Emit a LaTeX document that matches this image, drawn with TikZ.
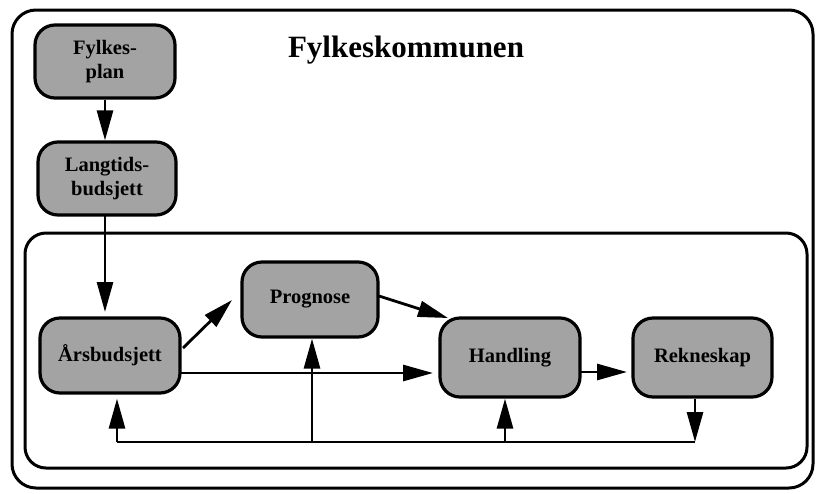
\documentclass[tikz,border=0pt]{standalone}
\usepackage{fontspec}
\setmainfont{Liberation Serif}
\usetikzlibrary{arrows.meta,calc}
\begin{document}
\begin{tikzpicture}[x=1pt,y=-1pt,
  frame/.style={draw=black,line width=3pt,rounded corners=24pt},
  boxnode/.style={draw=black,line width=3.2pt,rounded corners=20pt,fill=black!36,
     font=\bfseries\fontsize{20.5}{24}\selectfont,align=center,inner sep=0pt,
     minimum width=#1},
  boxnode/.default=138pt,
  arr/.style={line width=2.8pt,-{Triangle[length=30pt,width=16pt]}},
  ln/.style={line width=2.8pt}]
\useasboundingbox (0,0) rectangle (818,493);
\fill[white] (0,0) rectangle (818,493);
% frames
\draw[frame] (12,10) rectangle (813,488);
\draw[frame,rounded corners=21pt] (25,233) rectangle (807,468);
\node[font=\bfseries\fontsize{31}{36}\selectfont,anchor=base] (title) at (406,57) {Fylkeskommunen};
% nodes
\node[boxnode=140pt,minimum height=73pt] (fp) at (105,61.5) {Fylkes-\\plan};
\node[boxnode=138pt,minimum height=73pt] (lt) at (107,178.5) {Langtids-\\budsjett};
\node[boxnode=140pt,minimum height=75pt] (ars) at (110,355.5) {Årsbudsjett};
\node[boxnode=136pt,minimum height=75pt] (pr) at (310,299.5) {Prognose};
\node[boxnode=140pt,minimum height=79pt] (ha) at (510,357.5) {Handling};
\node[boxnode=139pt,minimum height=79pt] (re) at (702.5,357.5) {Rekneskap};
% helper coordinates
\coordinate (ltout) at (105,215);
\coordinate (arsin) at (105,318);
\coordinate (d1) at (183,348);
\coordinate (d2) at (232,300);
\coordinate (p1) at (379,296);
\coordinate (p2) at (448,318);
\coordinate (h1) at (180,373);
\coordinate (h2) at (440,373);
\coordinate (r1) at (580,372);
\coordinate (r2) at (633,372);
\coordinate (bR) at (695,442);
\coordinate (bL) at (117,442);
\coordinate (bP) at (312,442);
\coordinate (bH) at (505,442);
% connectors
\draw[arr] (fp.south) -- (fp.south |- lt.north);
\draw[arr,shorten >=6pt] (ltout) -- (arsin);
\draw[arr] (d1) -- (d2);
\draw[arr] (p1) -- (p2);
\draw[arr,shorten >=7pt] (h1) -- (h2);
\draw[arr,shorten >=6pt] (r1) -- (r2);
\draw[arr] (re.south -| bR) -- (bR);
\draw[ln] (bR) -- (bL);
\draw[arr,shorten >=4pt] (bL) -- (bL |- ars.south);
\draw[arr] (bP) -- (bP |- pr.south);
\draw[arr] (bH) -- (bH |- ha.south);
\end{tikzpicture}
\end{document}
